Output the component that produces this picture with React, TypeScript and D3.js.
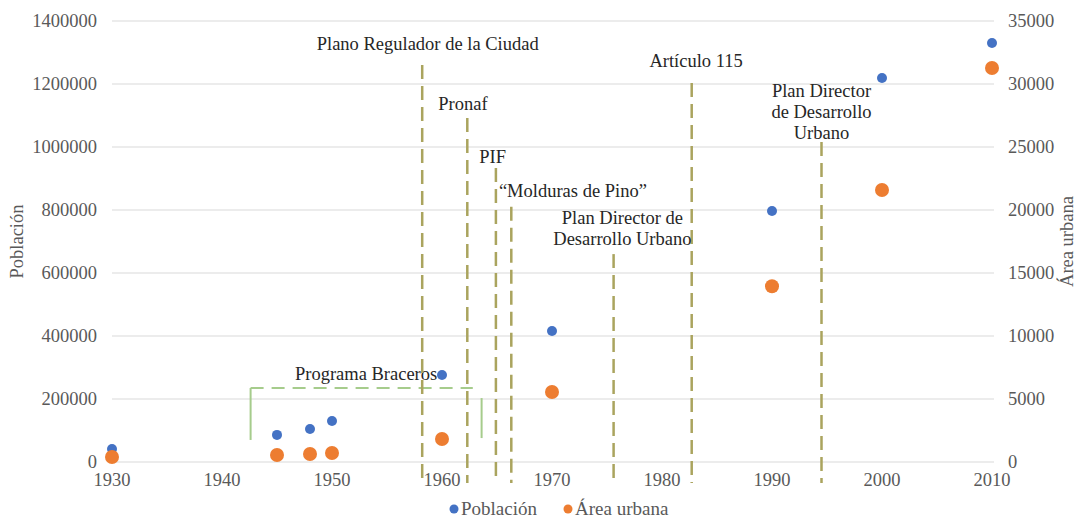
import React from 'react';
import * as d3 from 'd3';

// población (habitantes) y área urbana (ha)
const years = [1930, 1945, 1948, 1950, 1960, 1970, 1990, 2000, 2010];
const poblacion = [41000, 86000, 105000, 130000, 276000, 416000, 797000, 1219000, 1330000];
const areaUrbana = [400, 555, 635, 714, 1825, 5550, 13950, 21590, 31270];

const xTicks = [1930, 1940, 1950, 1960, 1970, 1980, 1990, 2000, 2010];
const leftTicks = [0, 200000, 400000, 600000, 800000, 1000000, 1200000, 1400000];
const rightTicks = [0, 5000, 10000, 15000, 20000, 25000, 30000, 35000];

// eventos: año de la línea, altura superior (en unidades de población), etiqueta
const eventNames = [
  ['Plano Regulador de la Ciudad'],
  ['Pronaf'],
  ['PIF'],
  ['“Molduras de Pino”'],
  ['Plan Director de', 'Desarrollo Urbano'],
  ['Artículo 115'],
  ['Plan Director', 'de Desarrollo', 'Urbano'],
];
const eventYears = [1958.2, 1962.3, 1964.9, 1966.3, 1975.6, 1982.7, 1994.5];
const eventTops = [1260000, 1092000, 933000, 810000, 660000, 1203000, 1016000];
const eventLabelYears = [1958.7, 1961.9, 1964.6, 1971.9, 1976.4, 1983.1, 1994.5];
const eventLabelValues = [1308000, 1117000, 949000, 841000, 755000, 1254000, 1159000];
const eventBottom = -67000;

// Programa Braceros (1942–1964)
const braceros = { label: 'Programa Braceros', start: 1942.6, end: 1962.8, close: 1963.6, labelYear: 1953.1, labelValue: 260000 };
const bracerosTop = 235000;
const bracerosBottom = 70000;
const bracerosCloseTop = 203000;
const bracerosCloseBottom = 76000;

const W = 1076;
const H = 519;
const serif = "'Liberation Serif', 'Times New Roman', Times, serif";
const FS = 18.5;

export default function App() {
  const x = d3.scaleLinear().domain([1930, 2010]).range([112, 992]);
  const yL = d3.scaleLinear().domain([0, 1400000]).range([462, 21]);
  const yR = d3.scaleLinear().domain([0, 35000]).range([462, 21]);

  const olive = '#aaa45e';
  const green = '#a6cc8c';
  const txt = { fontFamily: serif };

  return (
    <svg width={W} height={H} style={{ position: 'absolute', left: 0, top: 0, background: '#fff', fontFamily: serif }}>
      {/* gridlines */}
      {leftTicks.map(t => (
        <line key={'g' + t} x1={112} x2={994} y1={yL(t)} y2={yL(t)} stroke="#d9d9d9" strokeWidth={1} />
      ))}

      {/* left axis labels */}
      {leftTicks.map(t => (
        <text key={'l' + t} style={txt} x={97} y={yL(t)} dy="0.35em" textAnchor="end" fontSize={FS} fill="#595959">{t}</text>
      ))}
      {/* right axis labels */}
      {rightTicks.map(t => (
        <text key={'r' + t} style={txt} x={1008} y={yR(t)} dy="0.35em" textAnchor="start" fontSize={FS} fill="#595959">{t}</text>
      ))}
      {/* x labels */}
      {xTicks.map(t => (
        <text key={'x' + t} style={txt} x={x(t)} y={486} textAnchor="middle" fontSize={FS} fill="#595959">{t}</text>
      ))}

      {/* axis titles */}
      <text style={txt} transform={`translate(23,${(yL(0) + yL(1400000)) / 2}) rotate(-90)`} textAnchor="middle" fontSize={FS} fill="#595959">Población</text>
      <text style={txt} transform={`translate(1073,${(yL(0) + yL(1400000)) / 2}) rotate(-90)`} textAnchor="middle" fontSize={FS} fill="#595959">Área urbana</text>

      {/* Programa Braceros bracket */}
      <line x1={x(braceros.start)} x2={x(braceros.start)} y1={yL(bracerosTop)} y2={yL(bracerosBottom)} stroke={green} strokeWidth={2} />
      <line x1={x(braceros.start)} x2={x(braceros.end)} y1={yL(bracerosTop)} y2={yL(bracerosTop)} stroke={green} strokeWidth={2} strokeDasharray="13 8" />
      <line x1={x(braceros.close)} x2={x(braceros.close)} y1={yL(bracerosCloseTop)} y2={yL(bracerosCloseBottom)} stroke={green} strokeWidth={2} />
      <text style={txt} x={x(braceros.labelYear)} y={yL(braceros.labelValue)} textAnchor="middle" fontSize={FS} fill="#262626">{braceros.label}</text>

      {/* event lines */}
      {eventYears.map((yr, i) => (
        <line key={'e' + i} x1={x(yr)} x2={x(yr)} y1={yL(eventTops[i])} y2={yL(eventBottom)}
          stroke={olive} strokeWidth={2.5} strokeDasharray="14 7" />
      ))}
      {eventNames.map((lines, i) => (
        <text key={'t' + i} style={txt} x={x(eventLabelYears[i])} y={yL(eventLabelValues[i])} textAnchor="middle" fontSize={FS} fill="#262626">
          {lines.map((s, j) => (
            <tspan key={j} x={x(eventLabelYears[i])} dy={j === 0 ? 0 : 21}>{s}</tspan>
          ))}
        </text>
      ))}

      {/* points */}
      {years.map((yr, i) => (
        <circle key={'p' + yr} cx={x(yr)} cy={yL(poblacion[i])} r={5} fill="#4472c4" />
      ))}
      {years.map((yr, i) => (
        <circle key={'a' + yr} cx={x(yr)} cy={yR(areaUrbana[i])} r={7} fill="#ed7d31" />
      ))}

      {/* legend */}
      <circle cx={454} cy={509} r={4.5} fill="#4472c4" />
      <text style={txt} x={461} y={515} fontSize={19} fill="#595959">Población</text>
      <circle cx={568} cy={509} r={4.5} fill="#ed7d31" />
      <text style={txt} x={575} y={515} fontSize={19} fill="#595959">Área urbana</text>
    </svg>
  );
}
